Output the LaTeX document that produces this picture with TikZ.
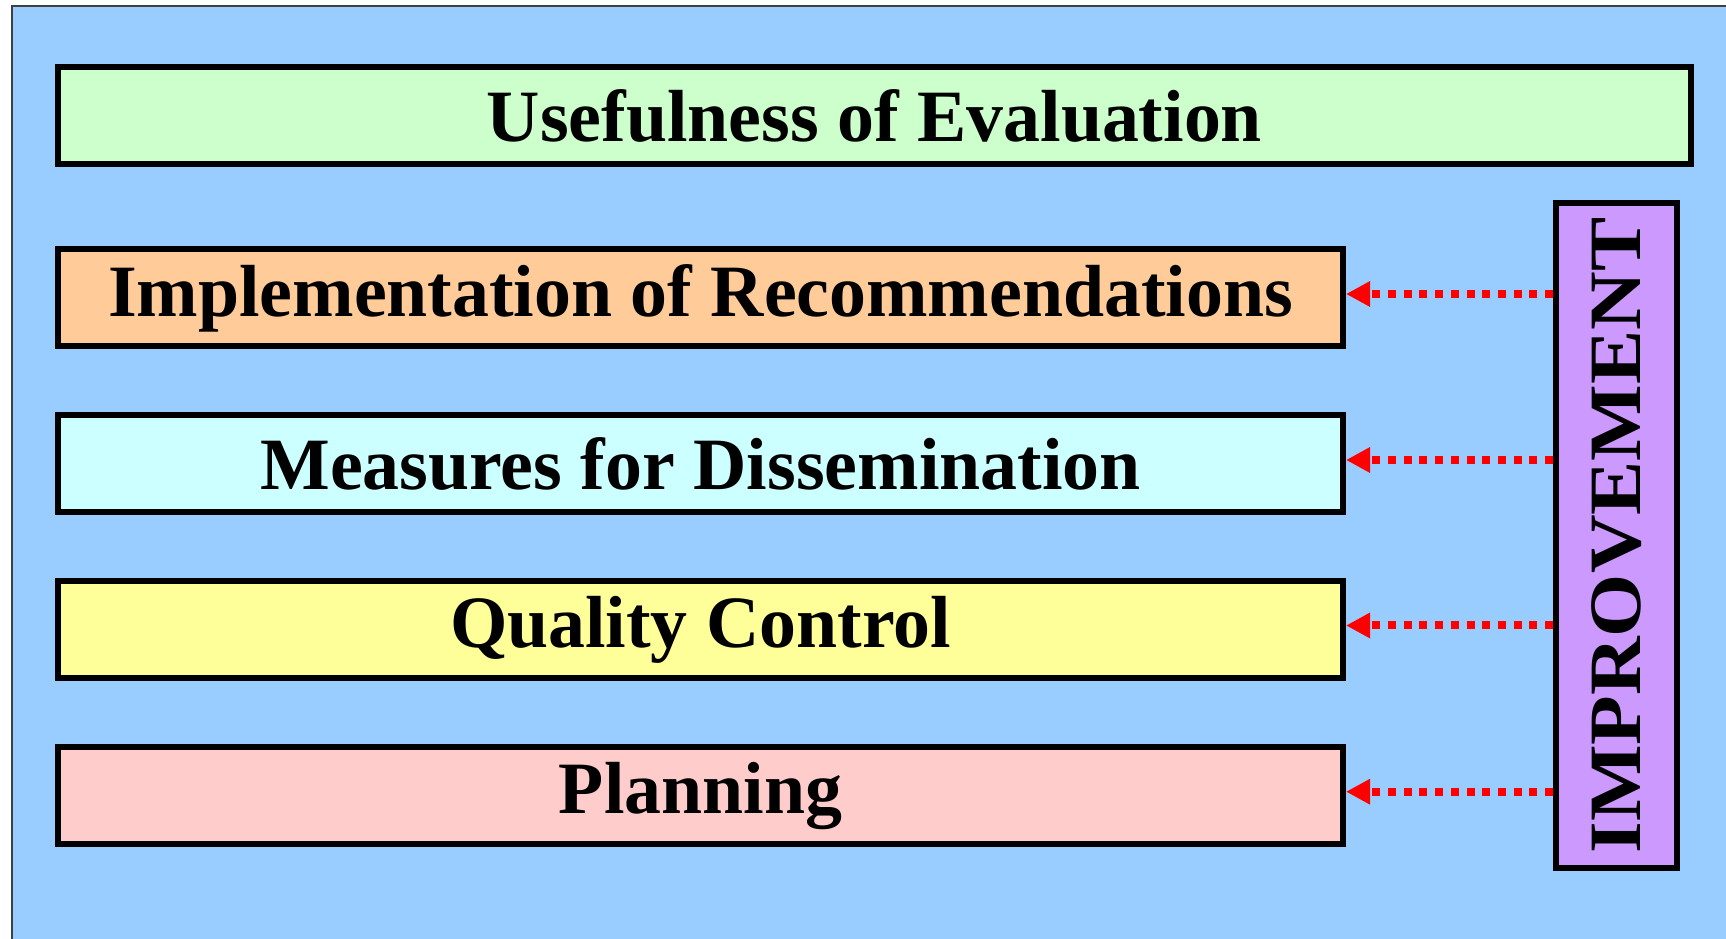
\documentclass[tikz,border=0pt]{standalone}
\usepackage{fontspec}
\setmainfont{Liberation Serif}
\usepackage{graphicx}
\usetikzlibrary{arrows.meta,positioning}
\definecolor{bgblue}{HTML}{99CCFF}
\definecolor{evalgreen}{HTML}{CCFFCC}
\definecolor{implorange}{HTML}{FFCC99}
\definecolor{disscyan}{HTML}{CCFFFF}
\definecolor{qualyellow}{HTML}{FFFF99}
\definecolor{planpink}{HTML}{FFCCCC}
\definecolor{improvpurple}{HTML}{CC99FF}

\begin{document}
\begin{tikzpicture}[
    >={Triangle[length=0.24cm, width=0.24cm]},
    bar/.style={rectangle, draw, line width=0.06cm, inner sep=0pt, minimum width=12.85cm, minimum height=0.97cm, font=\fontsize{21}{24}\selectfont\bfseries},
    link/.style={->, red, line width=0.08cm, dash pattern=on 0.08cm off 0.077cm}
]
\useasboundingbox (0,0) rectangle (17.26,-9.39);
% fondo azul
\fill[bgblue] (0.12,-0.06) rectangle (17.6,-9.6);
\draw[line width=0.02cm, black!75] (0.12,-9.6) -- (0.12,-0.06) -- (17.6,-0.06);

% barras (de arriba hacia abajo)
\node[bar, fill=evalgreen, minimum width=16.33cm] (useful) at (8.745,-1.155) {Usefulness of Evaluation};
\node[bar, fill=implorange] (impl) at (7.005,-2.98) {Implementation of Recommendations};
\node[bar, fill=disscyan] (diss) at (7.005,-4.64) {Measures for Dissemination};
\node[bar, fill=qualyellow] (qual) at (7.005,-6.295) {Quality Control};
\node[bar, fill=planpink] (plan) at (7.005,-7.957) {Planning};
% caja vertical
\node[bar, fill=improvpurple, minimum width=1.21cm, minimum height=6.65cm] (improv) at (16.165,-5.355) {\rotatebox{90}{\scalebox{1.1}[1]{IMPROVEMENT}}\hspace{0.06cm}};

% flechas punteadas hacia las barras
\foreach \n in {impl,diss,qual,plan}
  \draw[link] ([yshift=0.04cm]improv.west |- \n.east) -- ([yshift=0.04cm]\n.east);
\end{tikzpicture}
\end{document}
